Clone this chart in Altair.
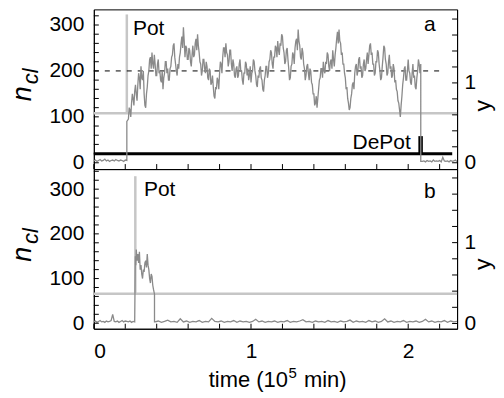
import altair as alt
import pandas as pd

# ---------------- data ----------------
# x in units of 10^5 min, n_cl = cluster size
# Panel a: baseline before Pot, noisy plateau after Pot, baseline after DePot
a_pre_n = [4, 6, 3, 5, 7, 4, 5, 8, 4, 6, 3, 5, 6, 4, 7, 5, 4, 6, 5, 3, 6, 5]          # t = 0.00 .. 0.21
a_pot_t = 0.21
a_jump_n = 90
# plateau, one value every 0.01 from t = 0.22 to 2.07 ...
a_plateau_n = [
    95, 115, 130, 140, 155, 150, 170, 185,
    210, 180, 150, 120, 165, 200, 230, 240, 205, 215,
    190, 225, 200, 175, 160, 195, 220, 205, 180, 210,
    235, 260, 215, 190, 205, 240, 275, 295, 230, 250,
    225, 245, 210, 255, 235, 270, 280, 240, 215, 200,
    225, 195, 210, 180, 200, 175, 165, 140, 160, 180,
    195, 215, 230, 250, 260, 235, 220, 245, 200, 215,
    185, 210, 190, 225, 200, 170, 195, 215, 205, 190,
    175, 200, 220, 190, 165, 185, 210, 180, 155, 190,
    210, 195, 225, 240, 205, 230, 250, 265, 235, 255,
    275, 240, 220, 250, 205, 185, 215, 235, 250, 270,
    290, 255, 225, 240, 205, 190, 215, 180, 200, 170,
    150, 130, 120, 160, 185, 205, 220, 195, 215, 235,
    200, 225, 245, 210, 250, 285, 290, 260, 240, 215,
    185, 165, 130, 120, 150, 175, 195, 215, 200, 230,
    210, 190, 225, 205, 240, 235, 260, 240, 215, 195,
    220, 240, 200, 185, 230, 250, 215, 195, 235, 210,
    190, 205, 180, 155, 130, 100, 145, 185, 210, 180,
    225, 195, 170, 215, 190, 160, 200, 215,
]
# ... and the other edge of the noisy band, half a step later (t = 0.225 .. 2.075)
a_plateau_mid_n = [
    120, 100, 150, 125, 170, 135, 195, 160,
    185, 200, 125, 150, 190, 225, 205, 215, 235, 190,
    215, 195, 180, 200, 185, 220, 195, 180, 205, 230,
    255, 230, 200, 215, 230, 260, 250, 265, 255, 225,
    250, 220, 235, 230, 260, 245, 255, 220, 190, 225,
    205, 220, 185, 205, 170, 190, 145, 165, 185, 160,
    220, 195, 250, 230, 240, 210, 245, 215, 225, 190,
    205, 185, 215, 200, 180, 195, 220, 190, 180, 210,
    195, 225, 200, 170, 190, 205, 185, 160, 180, 210,
    185, 220, 245, 215, 230, 255, 230, 245, 260, 280,
    250, 215, 245, 225, 180, 210, 240, 215, 265, 245,
    265, 230, 250, 215, 180, 210, 195, 205, 175, 150,
    125, 145, 140, 180, 205, 185, 200, 220, 240, 210,
    220, 205, 225, 235, 270, 260, 265, 235, 215, 195,
    160, 140, 115, 140, 170, 160, 210, 190, 225, 205,
    185, 215, 200, 225, 215, 255, 235, 215, 190, 220,
    245, 215, 180, 210, 255, 225, 190, 220, 205, 185,
    215, 175, 160, 135, 115, 125, 170, 205, 180, 200,
    200, 175, 195, 185, 165, 185, 225, 195,
]
a_drop_t = 2.08
a_drop_n = [215, 3]
a_post_n = [3, 4, 2, 5, 3, 4, 2, 6, 3, 4, 3, 5, 2, 12, 4, 3, 4, 2, 5, 3, 4, 6, 3]   # t = 2.09 .. 2.31

# Panel b
b_pre_n = [3, 5, 2, 4, 6, 3, 4, 2, 5, 3, 4, 6, 20, 4, 3, 5, 2, 4, 6, 3, 5, 4, 3, 5, 2, 4, 3]  # 0.00..0.26
b_pot_t = 0.264
b_peak_t = [0.264, 0.267, 0.27, 0.275, 0.28, 0.285, 0.29, 0.295, 0.30, 0.305, 0.31, 0.315,
            0.32, 0.325, 0.33, 0.335, 0.34, 0.345, 0.35, 0.355, 0.36, 0.365, 0.37, 0.375,
            0.38, 0.386, 0.386]
b_peak_n = [150, 130, 165, 140, 155, 135, 160, 120, 130, 110, 100, 120,
            115, 135, 140, 125, 155, 130, 120, 100, 90, 110, 105, 85,
            75, 65, 3]
b_post_n = [3, 5, 2, 4, 7, 3, 4, 2, 10, 3, 5, 2, 4, 3, 6, 2, 4, 3, 11, 4,
            3, 5, 2, 4, 3, 6, 2, 5, 3, 4, 2, 4, 9, 3, 5, 2, 4, 3, 5, 2,
            4, 3, 6, 2, 4, 3, 5, 8, 3, 4, 2, 5, 3, 4, 2, 6, 3, 4, 2, 5,
            3, 4, 7, 2, 5, 3, 4, 2, 6, 3, 5, 2, 4, 10, 3, 5, 2, 4, 3, 6,
            2, 4, 3, 5, 2, 4, 9, 3, 5, 2, 4, 3, 6, 2, 5, 3, 4]                  # t = 0.39 .. 2.31 step 0.02

# reference levels
a_stim_level = 108      # light grey line, panel a
a_pot_top = 323
a_thr = 200             # dashed line
a_thr_end = 2.23
a_depot_level = 19.6
a_depot_end = 2.28
a_depot_t = 2.079
a_depot_top = 58
b_stim_level = 66
b_pot_top = 329

# tick values
x_ticks = [0, 0.2, 0.4, 0.6, 0.8, 1.0, 1.2, 1.4, 1.6, 1.8, 2.0, 2.2]
x_labels = [0, 1, 2]
n_ticks = [0, 20, 40, 60, 80, 100, 120, 140, 160, 180, 200, 220, 240, 260, 280, 300, 320, 340]
n_labels = [0, 100, 200, 300]
y_ticks = [0, 0.2, 0.4, 0.6, 0.8, 1.0, 1.2, 1.4, 1.6, 1.8]
y_labels = [0, 1]

# ---------------- build tables ----------------
def grid(start, step, count):
    return [round(start + step * i, 4) for i in range(count)]

plat_t, plat_n = [], []
for tt, v, m in zip(grid(0.22, 0.01, len(a_plateau_n)), a_plateau_n, a_plateau_mid_n):
    plat_t += [tt, round(tt + 0.005, 4)]
    plat_n += [v, m]

ta = (grid(0.0, 0.01, len(a_pre_n)) + [a_pot_t] + plat_t
      + [a_drop_t, a_drop_t] + grid(2.09, 0.01, len(a_post_n)))
na = a_pre_n + [a_jump_n] + plat_n + a_drop_n + a_post_n
tb = grid(0.0, 0.01, len(b_pre_n)) + b_peak_t + grid(0.39, 0.02, len(b_post_n))
nb = b_pre_n + b_peak_n + b_post_n

W, H = 364, 160
X_DOM = [0, 2.311]
FONT = "Liberation Sans"
GRAY = "#8a8a8a"
LIGHT = "#c6c6c6"


def text_layer(s, x, y, size, **kw):
    return (alt.Chart(pd.DataFrame({"s": [s]}))
            .mark_text(font=FONT, fontSize=size, color="black", **kw)
            .encode(x=alt.value(x), y=alt.value(y), text="s:N"))


def panel(t, n, ydom, rdom, stim, pot_t, pot_top, labels, bottom, extra, ny, cly, yy):
    xsc = alt.Scale(domain=X_DOM, nice=False, zero=False)
    ysc = alt.Scale(domain=ydom, nice=False, zero=False)
    if bottom:
        xax = alt.Axis(values=x_labels, labelFontSize=21, labelPadding=12, ticks=False,
                       title=None, grid=False, domainColor="black", labelFont=FONT,
                       labelColor="black")
    else:
        xax = alt.Axis(labels=False, ticks=False, title=None, grid=False, domainColor="black")
    yax = alt.Axis(values=n_labels, labelFontSize=21, labelPadding=10, ticks=False,
                   title=None, grid=False, domainColor="black", labelFont=FONT,
                   labelColor="black")
    X = lambda f="t": alt.X(f"{f}:Q", scale=xsc, axis=xax)
    Y = lambda f="n": alt.Y(f"{f}:Q", scale=ysc, axis=yax)

    df = pd.DataFrame({"t": t, "n": n, "i": list(range(len(t)))})
    layers = []
    layers.append(alt.Chart(pd.DataFrame({"t": [X_DOM[0]], "t2": [X_DOM[1]], "n": [stim]}))
                  .mark_rule(color=LIGHT, strokeWidth=2.5)
                  .encode(x=X(), x2="t2:Q", y=Y()))
    layers.append(alt.Chart(pd.DataFrame({"t": [pot_t], "n": [stim], "n2": [pot_top]}))
                  .mark_rule(color=LIGHT, strokeWidth=2.5)
                  .encode(x=X(), y=Y(), y2="n2:Q"))
    layers += extra(X, Y)
    layers.append(alt.Chart(df).mark_line(color=GRAY, strokeWidth=1.3)
                  .encode(x=X(), y=Y(), order="i:Q"))
    # inward ticks
    layers.append(alt.Chart(pd.DataFrame({"n": [v for v in n_ticks if v <= ydom[1]]}))
                  .mark_rule(color="black", strokeWidth=1)
                  .encode(y=Y(), x=alt.value(0), x2=alt.value(5)))
    layers.append(alt.Chart(pd.DataFrame({"t": x_ticks}))
                  .mark_rule(color="black", strokeWidth=1)
                  .encode(x=X(), y=alt.value(H - 5), y2=alt.value(H)))
    for (lt, ln, s, al) in labels:
        layers.append(alt.Chart(pd.DataFrame({"t": [lt], "n": [ln], "s": [s]}))
                      .mark_text(font=FONT, fontSize=21, align=al, baseline="alphabetic",
                                 color="black")
                      .encode(x=X(), y=Y(), text="s:N"))
    # axis titles n_cl (left) and y (right)
    layers.append(text_layer("n", -63, ny, 27, fontStyle="italic", angle=270,
                             align="left", baseline="alphabetic"))
    layers.append(text_layer("cl", -56, cly, 22, fontStyle="italic", angle=270,
                             align="left", baseline="alphabetic"))
    layers.append(text_layer("y", 397, yy, 23, angle=270, align="center",
                             baseline="alphabetic"))
    if bottom:
        layers.append(text_layer("time (10", 194.5, 218.7, 22, align="right",
                                 baseline="alphabetic"))
        layers.append(text_layer("5", 195, 209, 15, align="left", baseline="alphabetic"))
        layers.append(text_layer("min)", 210.5, 218.7, 22, align="left",
                                 baseline="alphabetic"))
    left = alt.layer(*layers)

    rax = alt.Axis(orient="right", values=y_labels, labelFontSize=21, labelPadding=7,
                   ticks=False, title=None, grid=False, domainColor="black",
                   labelFont=FONT, labelColor="black")
    right = (alt.Chart(pd.DataFrame({"v": y_ticks}))
             .mark_rule(color="black", strokeWidth=1)
             .encode(y=alt.Y("v:Q", scale=alt.Scale(domain=rdom, nice=False, zero=False), axis=rax),
                     x=alt.value(W - 5), x2=alt.value(W)))
    return alt.layer(left, right).resolve_scale(y="independent").properties(width=W, height=H)


def extra_a(X, Y):
    return [
        alt.Chart(pd.DataFrame({"t": [0.0], "t2": [a_thr_end], "n": [a_thr]}))
        .mark_rule(color="black", strokeWidth=1, strokeDash=[5, 6])
        .encode(x=X(), x2="t2:Q", y=Y()),
        alt.Chart(pd.DataFrame({"t": [0.0], "t2": [a_depot_end], "n": [a_depot_level]}))
        .mark_rule(color="black", strokeWidth=3)
        .encode(x=X(), x2="t2:Q", y=Y()),
        alt.Chart(pd.DataFrame({"t": [a_depot_t], "n": [a_depot_level], "n2": [a_depot_top]}))
        .mark_rule(color="black", strokeWidth=4.5)
        .encode(x=X(), y=Y(), y2="n2:Q"),
    ]


def extra_b(X, Y):
    return []


pa = panel(ta, na, [-13.7, 334], [-0.079, 1.921], a_stim_level, a_pot_t, a_pot_top,
           [(0.249, 279, "Pot", "left"), (2.137, 286, "a", "center"),
            (2.016, 30, "DePot", "right")], False, extra_a, 92, 75, 96.5)
pb = panel(tb, nb, [-12.3, 345], [-0.065, 1.91], b_stim_level, b_pot_t, b_pot_top,
           [(0.319, 285, "Pot", "left"), (2.137, 280, "b", "center")], True, extra_b,
           93, 75, 95.5)

chart = (alt.vconcat(pa, pb, spacing=0, bounds="flush")
         .properties(padding={"left": 0, "top": 0, "right": 0, "bottom": 0})
         .configure_view(stroke="black", strokeWidth=1)
         .configure_axis(grid=False))

chart.save("out.html", embed_options={"renderer": "svg", "actions": False})
